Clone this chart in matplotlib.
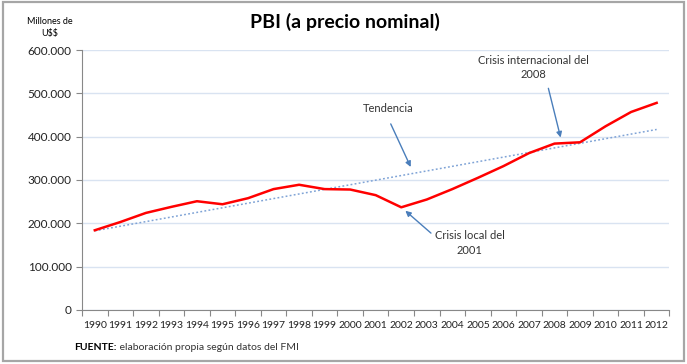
import numpy as np
import matplotlib.pyplot as plt
from matplotlib.patches import Rectangle
from matplotlib.ticker import FuncFormatter

years = [str(y) for y in range(1990, 2013)]
# PBI nominal, millones de U$S
pbi = [184000, 203000, 224000, 238000, 251000, 244000, 258000, 279000,
       289000, 279000, 278000, 265000, 237000, 255000, 279000, 305000,
       332000, 362000, 384000, 387000, 424000, 457000, 478000]

y_ticks = [0, 100000, 200000, 300000, 400000, 500000, 600000]

plt.rcParams["font.family"] = ["Lato", "DejaVu Sans"]

fig = plt.figure(figsize=(6.87, 3.64), dpi=100)
ax = fig.add_axes([0.1194, 0.1484, 0.855, 0.7142])

x = np.arange(len(years))
# linea de tendencia lineal (como en Excel)
coef = np.polyfit(x, pbi, 1)
trend = np.polyval(coef, x)

ax.plot(x, trend, color="#7fa3d6", linestyle=(0, (1.2, 1.5)), linewidth=1.1, zorder=2)
ax.plot(x, pbi, color="#ff0000", linewidth=1.8, zorder=3)

ax.set_xlim(-0.5, len(years) - 0.5)
ax.set_ylim(0, 600000)
ax.set_yticks(y_ticks)
ax.yaxis.set_major_formatter(FuncFormatter(lambda v, p: f"{int(v):,}".replace(",", ".")))
ax.set_xticks(np.arange(-0.5, len(years)), minor=False)
ax.set_xticklabels([])
ax.set_xticks(x, minor=True)
ax.set_xticklabels(years, minor=True)
ax.tick_params(axis="x", which="minor", length=0, pad=8, labelsize=7.5, colors="#222222")
ax.tick_params(axis="x", which="major", length=4, color="#888888")
ax.tick_params(axis="y", length=4, color="#888888", labelsize=8.5, colors="#222222")

ax.grid(axis="y", color="#d9e3f1", linewidth=1)
ax.set_axisbelow(True)
for s in ["top", "right"]:
    ax.spines[s].set_visible(False)
for s in ["left", "bottom"]:
    ax.spines[s].set_color("#888888")

fig.text(0.502, 0.94, "PBI (a precio nominal)", ha="center", va="center",
         fontsize=14, fontweight="bold")
fig.text(0.073, 0.925, "Millones de\nU\\$\\$", ha="center", va="center", fontsize=6.5,
         linespacing=1.5)

# anotaciones con flechas
arrow = dict(arrowstyle="-|>", color="#4a7ebb", lw=1.0, mutation_scale=8)
ax.annotate("Tendencia", xy=(12.37, 330000), xytext=(11.5, 466000),
            ha="center", va="center", fontsize=8, color="#333333",
            arrowprops=dict(arrow, shrinkA=6, shrinkB=0, relpos=(0.45, 0)))
ax.annotate("Crisis internacional del\n2008", xy=(18.24, 398000),
            xytext=(17.16, 560000), ha="center", va="center", fontsize=8,
            color="#333333", linespacing=1.4,
            arrowprops=dict(arrow, shrinkA=4, shrinkB=0, relpos=(0.62, 0)))
ax.annotate("Crisis local del\n2001", xy=(12.16, 229000),
            xytext=(14.68, 155000), ha="center", va="center", fontsize=8,
            color="#333333", linespacing=1.4,
            arrowprops=dict(arrow, shrinkA=1, shrinkB=0, relpos=(0, 0.75)))

src = fig.text(0.108, 0.044, "FUENTE:", ha="left", va="center", fontsize=7.5,
               fontweight="bold")
ax.annotate(" elaboración propia según datos del FMI", xy=(1, 0.5), xycoords=src,
            ha="left", va="center", fontsize=7.5, color="#333333",
            annotation_clip=False)

fig.patches.append(Rectangle((0.004, 0.008), 0.992, 0.986, transform=fig.transFigure,
                             fill=False, edgecolor="#a6a6a6", linewidth=1.6))

fig.savefig("out.png", dpi=100)
